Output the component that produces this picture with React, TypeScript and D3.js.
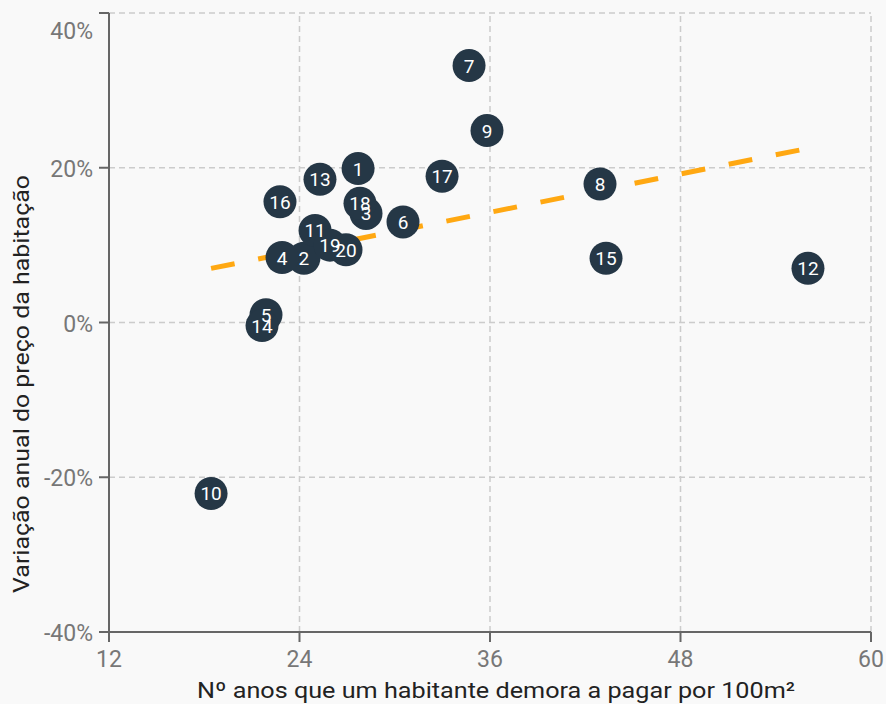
import React from "react";
import * as d3 from "d3";

const labels = ["1","2","3","4","5","6","7","8","9","10","11","12","13","14","15","16","17","18","19","20"];
const xValues = [27.69, 24.28, 28.19, 22.90, 21.89, 30.52, 34.68, 42.93, 35.81, 18.43, 24.98, 56.03, 25.29, 21.64, 43.31, 22.77, 32.98, 27.81, 25.92, 26.93];
const yValues = [19.9, 8.3, 14.1, 8.4, 1.0, 13.0, 33.2, 17.9, 24.8, -22.1, 11.9, 7.0, 18.5, -0.4, 8.3, 15.6, 18.9, 15.4, 10.0, 9.4];
const trendX = [18.43, 56.03];
const trendY = [6.99, 22.51];
const xTicks = [12, 24, 36, 48, 60];
const yTicks = [-40, -20, 0, 20, 40];
const xTitle = "Nº anos que um habitante demora a pagar por 100m²";
const yTitle = "Variação anual do preço da habitação";

const W = 886, H = 704;
const m = { left: 109, right: 15, top: 13, bottom: 72 };

export default function App() {
  const x = d3.scaleLinear().domain([12, 60]).range([m.left, W - m.right]);
  const y = d3.scaleLinear().domain([-40, 40]).range([H - m.bottom, m.top]);
  const font = "Roboto, 'Noto Sans', sans-serif";
  const line = d3.line<number>().x((d, i) => x(trendX[i])).y((d, i) => y(trendY[i]));
  const pts = labels.map((l, i) => ({ l, x: xValues[i], y: yValues[i] }));
  return (
    <svg width={W} height={H} style={{ position: "fixed", left: 0, top: 0, background: "#f9f9f9" }} fontFamily={font}>
      <rect x={0} y={0} width={W} height={H} fill="#f9f9f9" />
      {xTicks.slice(1).map(t => (
        <line key={"gx" + t} x1={x(t)} x2={x(t)} y1={y(-40)} y2={y(40)} stroke="#cccccc" strokeWidth={1.5} strokeDasharray="6 4" />
      ))}
      {yTicks.slice(1).map(t => (
        <line key={"gy" + t} x1={x(12)} x2={x(60)} y1={y(t)} y2={y(t)} stroke="#cccccc" strokeWidth={1.5} strokeDasharray="6 4" />
      ))}
      <path d={line(trendX) || ""} fill="none" stroke="#ffa812" strokeWidth={5} strokeDasharray="24 24" />
      {/* axes */}
      <line x1={x(12)} x2={x(12)} y1={y(40)} y2={y(-40) + 10} stroke="#666" strokeWidth={2} />
      <line x1={x(12) - 10} x2={x(60)} y1={y(-40)} y2={y(-40)} stroke="#666" strokeWidth={2} />
      {yTicks.map(t => (
        <g key={"ty" + t}>
          <line x1={x(12) - 10} x2={x(12)} y1={y(t)} y2={y(t)} stroke="#666" strokeWidth={2} />
          <text x={93} y={Math.max(y(t), 30) + 9} textAnchor="end" fontSize={23} fill="#777">{t + "%"}</text>
        </g>
      ))}
      {xTicks.map(t => (
        <g key={"tx" + t}>
          <line x1={x(t)} x2={x(t)} y1={y(-40)} y2={y(-40) + 10} stroke="#666" strokeWidth={2} />
          <text x={x(t)} y={667} textAnchor="middle" fontSize={23} fill="#777">{t}</text>
        </g>
      ))}
      <text x={496} y={698} textAnchor="middle" fontSize={22} fill="#222" textLength={598} lengthAdjust="spacingAndGlyphs">{xTitle}</text>
      <text transform={`translate(29,384) rotate(-90)`} textAnchor="middle" fontSize={22} fill="#222" textLength={418} lengthAdjust="spacingAndGlyphs">{yTitle}</text>
      {pts.map(p => (
        <circle key={"c" + p.l} cx={x(p.x)} cy={y(p.y)} r={16.5} fill="#253746" />
      ))}
      {pts.map(p => (
        <text key={"t" + p.l} x={x(p.x)} y={y(p.y) + 7} textAnchor="middle" fontSize={19} fill="#ffffff">{p.l}</text>
      ))}
    </svg>
  );
}
